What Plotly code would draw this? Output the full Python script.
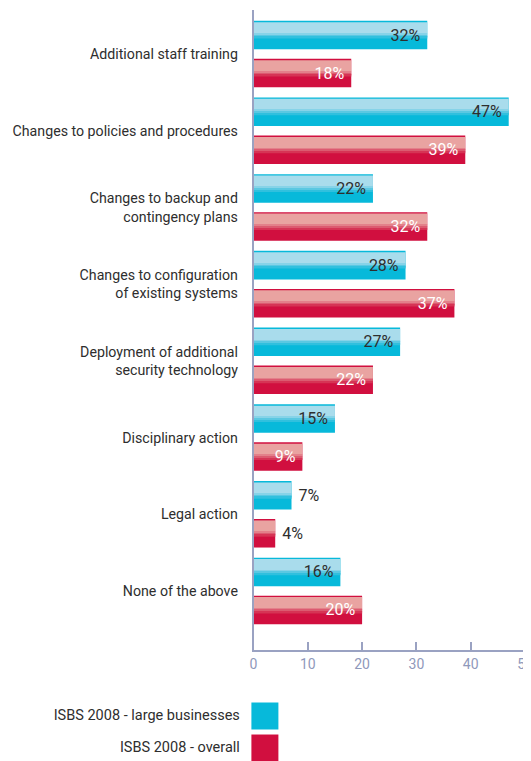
import plotly.graph_objects as go

# ---------------- data ----------------
categories = [
    "Additional staff training",
    "Changes to policies and procedures",
    "Changes to backup and<br>contingency plans",
    "Changes to configuration<br>of existing systems",
    "Deployment of additional<br>security technology",
    "Disciplinary action",
    "Legal action",
    "None of the above",
]
large_businesses = [32, 47, 22, 28, 27, 15, 7, 16]
overall = [18, 39, 32, 37, 22, 9, 4, 20]
series_names = ["ISBS 2008 - large businesses", "ISBS 2008 - overall"]
label_positions = ["inside", "inside", "inside", "inside", "inside", "inside", "outside", "inside"]
x_ticks = [0, 10, 20, 30, 40, 50]

# ---------------- style ----------------
# the page body adds an 8px margin, so the figure is 8px smaller than the window
OFF = 8
W, H = 531 - OFF, 761 - OFF
FONT = "Roboto, Liberation Sans Narrow, sans-serif"
AXIS_COLOR = "#9aa2c2"
TICK_FONT_COLOR = "#8f99bb"
TEXT_DARK = "#2e2e2e"
BLUE_DARK = "#07b9da"
RED_DARK = "#d10f3f"
BLUE_LAYERS = [(0.05, 0.44, "#a9dcec"), (0.44, 0.50, "#86d3e8"), (0.50, 0.56, "#5ac8e2"), (0.56, 0.62, "#30c0de")]
RED_LAYERS = [(0.05, 0.44, "#e9a3a1"), (0.44, 0.50, "#e3808a"), (0.50, 0.56, "#dc5a70"), (0.56, 0.62, "#d63455")]
BAR_W = 0.372
BLUE_CENTER = -0.248
RED_CENTER = 0.248

fig = go.Figure()


def add_bar(values, center, dark, layers, inside_color):
    top = center - BAR_W / 2
    fig.add_trace(go.Bar(
        y=categories, x=values, orientation="h", width=BAR_W, offset=top,
        marker=dict(color=dark, line_width=0), hoverinfo="skip", showlegend=False))
    for f0, f1, col in layers:
        fig.add_trace(go.Bar(
            y=categories, x=values, orientation="h", width=BAR_W * (f1 - f0),
            offset=top + BAR_W * f0, marker=dict(color=col, line_width=0),
            hoverinfo="skip", showlegend=False))
    texts = [
        (f"{v}%\u00a0" if p == "inside" else f"\u00a0{v}%")
        for v, p in zip(values, label_positions)
    ]
    fig.add_trace(go.Bar(
        y=categories, x=values, orientation="h", width=BAR_W, offset=top,
        marker=dict(color="rgba(0,0,0,0)", line_width=0),
        text=texts, textposition=label_positions, insidetextanchor="end",
        textangle=0, constraintext="none",
        insidetextfont=dict(color=inside_color, size=16, family=FONT),
        outsidetextfont=dict(color=TEXT_DARK, size=16, family=FONT),
        cliponaxis=False, hoverinfo="skip", showlegend=False))


add_bar(large_businesses, BLUE_CENTER, BLUE_DARK, BLUE_LAYERS, TEXT_DARK)
add_bar(overall, RED_CENTER, RED_DARK, RED_LAYERS, "white")

# legend drawn as a small subplot: text to the left of a square swatch
fig.add_trace(go.Scatter(
    x=[0, 0], y=series_names, mode="markers+text", xaxis="x2", yaxis="y2",
    marker=dict(symbol="square", size=27, color=[BLUE_DARK, RED_DARK], line_width=0),
    text=[n + "\u00a0\u00a0" for n in series_names], textposition="middle left",
    textfont=dict(size=14.5, color=TEXT_DARK, family=FONT),
    cliponaxis=False, hoverinfo="skip", showlegend=False))

x_dom = [(253.5 - OFF) / W, (525 - OFF) / W]
fig.update_layout(
    width=W, height=H,
    margin=dict(l=0, r=0, t=0, b=0, autoexpand=False),
    barmode="overlay",
    plot_bgcolor="white", paper_bgcolor="white",
    showlegend=False,
    font=dict(family=FONT, size=14.2, color=TEXT_DARK),
    xaxis=dict(
        domain=x_dom, range=[0, 50], tickvals=x_ticks,
        ticks="inside", ticklen=8, tickwidth=1.5, tickcolor=AXIS_COLOR,
        showline=True, linecolor=AXIS_COLOR, linewidth=1.5,
        showgrid=False, zeroline=False, anchor="y", automargin=False,
        ticklabeloverflow="allow",
        tickfont=dict(size=14, color=TICK_FONT_COLOR, family=FONT),
    ),
    yaxis=dict(
        domain=[(H - (650 - OFF)) / H, (H - (10 - OFF)) / H], type="category",
        range=[7.77, -0.574],
        showline=True, linecolor=AXIS_COLOR, linewidth=1.5,
        ticks="", ticklabelstandoff=11, showgrid=False, zeroline=False,
        automargin=False, ticklabeloverflow="allow",
        tickfont=dict(size=14.2, color=TEXT_DARK, family=FONT),
    ),
    xaxis2=dict(domain=x_dom, range=[-2.1, 47.9], visible=False, anchor="y2"),
    yaxis2=dict(domain=[0, 71 / H], type="category", range=[1.406, -0.8125],
                visible=False, anchor="x2"),
)

fig.write_html("out.html")
